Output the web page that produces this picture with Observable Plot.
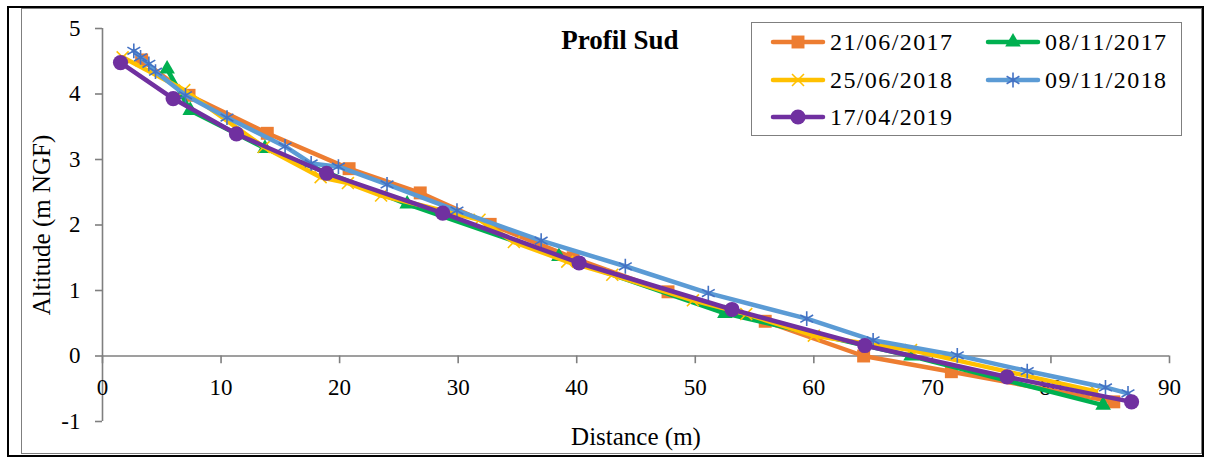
<!DOCTYPE html>
<html>
<head>
<meta charset="utf-8">
<script src="https://cdn.jsdelivr.net/npm/d3@7"></script>
<script src="https://cdn.jsdelivr.net/npm/@observablehq/plot@0.6"></script>
<style>
  body { margin: 0; background: #fff; }
  #wrap { position: relative; width: 1212px; height: 461px; overflow: hidden; font-family: "Liberation Serif", serif; background: #fff; }
  .frame { position: absolute; box-sizing: border-box; pointer-events: none; }
  #legend { position: absolute; left: 751px; top: 22px; width: 431px; height: 114px; box-sizing: border-box; border: 1.5px solid #7f7f7f; background: #fff; }
  .entry { position: absolute; height: 30px; display: flex; align-items: center; }
  .entry span { font-size: 24px; color: #000; margin-left: 4px; letter-spacing: 1.4px; }
</style>
</head>
<body>
<div id="wrap"></div>
<script>
// ---- Data ----
const seriesNames = ["21/06/2017", "08/11/2017", "25/06/2018", "09/11/2018", "17/04/2019"];

const dist_21_06_2017 = [3.3, 7.3, 13.9, 20.8, 26.8, 32.7, 39.7, 47.7, 55.9, 64.2, 71.6, 85.3];
const alt_21_06_2017  = [4.52, 3.98, 3.40, 2.86, 2.49, 2.01, 1.50, 0.98, 0.53, 0.00, -0.24, -0.70];

const dist_08_11_2017 = [5.45, 7.4, 13.7, 25.7, 38.5, 52.5, 68.2, 84.4];
const alt_08_11_2017  = [4.38, 3.75, 3.17, 2.32, 1.52, 0.65, 0.00, -0.75];

const dist_25_06_2018 = [1.7, 6.9, 13.6, 18.4, 20.7, 23.5, 31.8, 34.7, 39.2, 43.0, 49.8, 54.3, 60.0, 68.2, 83.8];
const alt_25_06_2018  = [4.56, 4.06, 3.19, 2.73, 2.64, 2.45, 2.08, 1.74, 1.44, 1.24, 0.85, 0.64, 0.31, 0.09, -0.54];

const dist_09_11_2018 = [2.64, 3.21, 3.91, 4.47, 7.0, 10.5, 15.4, 17.6, 19.9, 24.0, 29.9, 37.0, 44.1, 51.1, 59.4, 65.0, 72.1, 78.0, 84.6, 86.5];
const alt_09_11_2018  = [4.66, 4.56, 4.46, 4.34, 3.98, 3.64, 3.20, 2.94, 2.89, 2.62, 2.22, 1.76, 1.37, 0.96, 0.57, 0.24, 0.01, -0.23, -0.48, -0.57];

const dist_17_04_2019 = [1.52, 5.96, 11.3, 18.9, 28.7, 40.2, 53.1, 64.3, 76.3, 86.8];
const alt_17_04_2019  = [4.48, 3.93, 3.39, 2.79, 2.18, 1.42, 0.71, 0.16, -0.32, -0.70];

const xTicks = [0, 10, 20, 30, 40, 50, 60, 70, 80, 90];
const yTicks = [-1, 0, 1, 2, 3, 4, 5];

const titleText = "Profil Sud";
const xLabel = "Distance (m)";
const yLabel = "Altitude (m NGF)";

// ---- Styles ----
const styles = [
  {line: "#ED7D31", mark: "#ED7D31", symbol: "square",   r: 7.3, fill: true},
  {line: "#00B050", mark: "#00B050", symbol: "triangle", r: 5.8, fill: true},
  {line: "#FFC000", mark: "#FFC000", symbol: "times",    r: 5.5, fill: false},
  {line: "#5B9BD5", mark: "#4472C4", symbol: "asterisk", r: 7,   fill: false},
  {line: "#7030A0", mark: "#7030A0", symbol: "circle",   r: 7.6, fill: true}
];

const dists = [dist_21_06_2017, dist_08_11_2017, dist_25_06_2018, dist_09_11_2018, dist_17_04_2019];
const alts  = [alt_21_06_2017, alt_08_11_2017, alt_25_06_2018, alt_09_11_2018, alt_17_04_2019];

const tables = seriesNames.map((name, k) => dists[k].map((d, i) => ({series: name, d, alt: alts[k][i]})));

const gray = "#7f7f7f";

const seriesMarks = [];
tables.forEach((data, k) => {
  const s = styles[k];
  seriesMarks.push(Plot.line(data, {x: "d", y: "alt", stroke: s.line, strokeWidth: 4.5, strokeLinejoin: "round", strokeLinecap: "round"}));
  seriesMarks.push(Plot.dot(data, s.fill
    ? {x: "d", y: "alt", symbol: () => s.symbol, r: s.r, fill: s.mark, stroke: "none"}
    : {x: "d", y: "alt", symbol: () => s.symbol, r: s.r, fill: "none", stroke: s.mark, strokeWidth: 1.6}));
});

const chart = Plot.plot({
  width: 1212,
  height: 461,
  marginLeft: 102,
  marginRight: 43,
  marginTop: 28,
  marginBottom: 40,
  style: {fontFamily: "Liberation Serif, serif", fontSize: "22px", color: "#000", background: "transparent"},
  x: {domain: [0, 90], axis: null},
  y: {domain: [-1, 5], axis: null},
  symbol: {type: "identity"},
  marks: [
    Plot.ruleX([0], {stroke: gray, strokeWidth: 1.6}),
    Plot.ruleY([0], {stroke: gray, strokeWidth: 1.6}),
    Plot.ruleX(xTicks, {x: d => d, y1: 0, y2: -0.118, stroke: gray, strokeWidth: 1.6}),
    Plot.text(xTicks, {x: d => d, y: 0, dy: 32, text: d => String(d), fontSize: 23, fill: "#000", lineAnchor: "middle"}),
    Plot.axisY(yTicks, {tickSize: 7, tickPadding: 15, stroke: gray, strokeWidth: 1.6, fill: "#000", fontSize: 23, tickFormat: d => String(d), label: null}),
    Plot.text([yLabel], {frameAnchor: "left", dx: -61, rotate: -90, textAnchor: "middle", lineAnchor: "middle", fontSize: 25, fill: "#000"}),
    Plot.text([xLabel], {frameAnchor: "bottom", dy: 15, textAnchor: "middle", lineAnchor: "middle", fontSize: 25, fill: "#000"}),
    Plot.text([titleText], {frameAnchor: "top", dx: -16, dy: 12, textAnchor: "middle", lineAnchor: "middle", fontSize: 27, fontWeight: "bold", fill: "#000"}),
    ...seriesMarks
  ]
});

const wrap = document.getElementById("wrap");
chart.style.position = "absolute";
chart.style.left = "0px";
chart.style.top = "0px";
wrap.appendChild(chart);

// Outer frames
const outer = document.createElement("div");
outer.className = "frame";
Object.assign(outer.style, {left: "7px", top: "6px", width: "1197px", height: "451px", border: "2.5px solid #000"});
wrap.appendChild(outer);
const inner = document.createElement("div");
inner.className = "frame";
Object.assign(inner.style, {left: "21px", top: "8px", width: "1181px", height: "446px", border: "1.5px solid " + gray});
wrap.appendChild(inner);

// Legend
const legend = document.createElement("div");
legend.id = "legend";
wrap.appendChild(legend);
const symbolMap = {square: d3.symbolSquare, triangle: d3.symbolTriangle, times: d3.symbolTimes, asterisk: d3.symbolAsterisk, circle: d3.symbolCircle};
const legendPos = [[18, 4], [233, 4], [18, 42], [233, 42], [18, 79]];
seriesNames.forEach((name, k) => {
  const s = styles[k];
  const e = document.createElement("div");
  e.className = "entry";
  e.style.left = legendPos[k][0] + "px";
  e.style.top = legendPos[k][1] + "px";
  const svg = d3.create("svg").attr("width", 56).attr("height", 30);
  svg.append("line").attr("x1", 3).attr("x2", 53).attr("y1", 15).attr("y2", 15)
    .attr("stroke", s.line).attr("stroke-width", 4.5).attr("stroke-linecap", "round");
  const path = d3.symbol(symbolMap[s.symbol], Math.PI * s.r * s.r)();
  svg.append("path").attr("d", path).attr("transform", "translate(28,15)")
    .attr("fill", s.fill ? s.mark : "none").attr("stroke", s.fill ? "none" : s.mark).attr("stroke-width", 1.6);
  e.appendChild(svg.node());
  const t = document.createElement("span");
  t.textContent = name;
  e.appendChild(t);
  legend.appendChild(e);
});
</script>
</body>
</html>
